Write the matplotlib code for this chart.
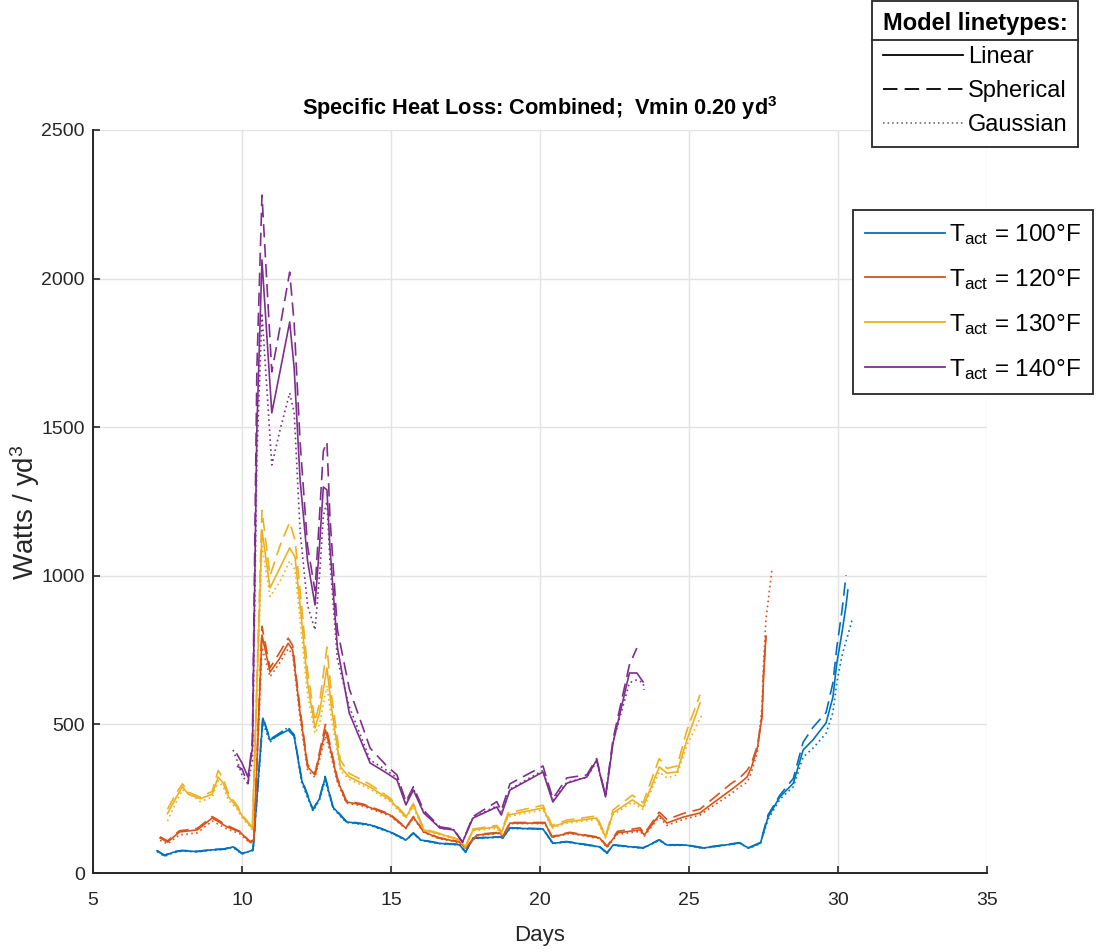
import numpy as np
import matplotlib
matplotlib.use("Agg")
import matplotlib.pyplot as plt
from matplotlib.lines import Line2D

nan = np.nan

# --- data ---
# T_act = 100 F
days_100 = [7.15, 7.4, 7.7, 8.0, 8.5, 9.0, 9.4, 9.7, 10.0, 10.37, 10.7, 10.94, 11.25,
            11.55, 11.75, 12.0, 12.38, 12.6, 12.79, 13.05, 13.5, 14.3, 14.97, 15.5,
            15.75, 16.0, 16.6, 17.3, 17.5, 17.75, 18.65, 18.75, 18.99, 20.1, 20.43,
            20.9, 22.0, 22.25, 22.45, 23.46, 24.0, 24.26, 24.9, 25.47, 26.7, 27.0,
            27.4, 27.65, 28.05, 28.5, 28.83, 29.16, 29.6, 29.83, 29.96, 30.13, 30.27,
            30.33, 30.47]
lin_100 = [75, 58, 70, 75, 72, 78, 80, 88, 65, 77, 521, 447, 465,
           481, 460, 313, 212, 250, 320, 222, 172, 162, 138, 111,
           134, 111, 100, 95, 70, 117, 121, 118, 151, 148, 100,
           105, 88, 67, 94, 84, 111, 94, 94, 84, 101, 84,
           101, 188, 256, 302, 414, 448, 505, 592, 706, 807, 900,
           952, nan]
sph_100 = [75, 60, 72, 76, 73, 79, 81, 90, 66, 78, 525, 450, 470,
           488, 465, 318, 214, 252, 325, 224, 174, 163, 139, 112,
           135, 112, 101, 96, 71, 118, 122, 119, 152, 149, 101,
           106, 89, 68, 95, 85, 112, 95, 95, 85, 102, 85,
           103, 195, 262, 318, 440, 490, 540, 640, 760, 880, 1002,
           nan, nan]
gau_100 = [72, 56, 68, 74, 71, 77, 79, 86, 64, 76, 505, 440, 470,
           490, 462, 305, 208, 245, 312, 218, 170, 160, 136, 110,
           132, 110, 99, 94, 69, 116, 120, 117, 150, 147, 99,
           104, 87, 66, 93, 83, 110, 93, 93, 83, 100, 83,
           99, 180, 248, 290, 390, 420, 470, 540, 640, 730, 780,
           800, 851]

# T_act = 120 F
days_120 = [7.25, 7.5, 7.9, 8.5, 9.0, 9.5, 9.93, 10.27, 10.4, 10.67, 10.94, 11.25,
            11.55, 11.7, 11.95, 12.2, 12.45, 12.8, 12.95, 13.2, 13.5, 14.06, 14.97,
            15.5, 15.75, 16.1, 16.6, 17.3, 17.5, 17.9, 18.65, 18.75, 18.99, 20.17,
            20.4, 21.0, 22.0, 22.25, 22.6, 23.36, 23.5, 24.0, 24.26, 24.8, 25.37,
            25.8, 26.4, 26.7, 26.95, 27.1, 27.3, 27.45, 27.5, 27.58, 27.78]
lin_120 = [118, 104, 138, 145, 185, 155, 138, 104, 110, 801, 676, 720,
           773, 750, 538, 357, 330, 481, 424, 313, 239, 229, 195,
           151, 188, 138, 118, 104, 84, 128, 135, 121, 168, 168,
           121, 135, 118, 88, 135, 145, 128, 195, 168, 188, 202,
           235, 279, 302, 323, 357, 424, 525, 659, 794, nan]
sph_120 = [122, 108, 142, 150, 190, 160, 140, 106, 112, 830, 690, 740,
           790, 765, 550, 365, 335, 500, 435, 320, 243, 232, 198,
           153, 190, 140, 119, 105, 85, 130, 137, 123, 170, 170,
           123, 137, 120, 90, 140, 152, 132, 205, 180, 200, 215,
           250, 300, 320, 345, 370, 430, 530, 665, 800, nan]
gau_120 = [110, 98, 128, 135, 175, 148, 132, 100, 108, 760, 660, 705,
           755, 735, 520, 345, 322, 460, 410, 305, 235, 225, 192,
           149, 185, 136, 116, 102, 82, 126, 133, 119, 166, 166,
           119, 133, 116, 86, 130, 140, 124, 188, 160, 180, 195,
           225, 265, 290, 305, 340, 410, 560, 700, 850, 1019]

# T_act = 130 F
days_130 = [7.5, 7.8, 8.0, 8.2, 8.6, 9.0, 9.2, 9.37, 9.55, 9.83, 10.03, 10.27,
            10.35, 10.67, 10.94, 11.27, 11.6, 11.78, 12.0, 12.2, 12.45, 12.6, 12.85,
            13.0, 13.3, 13.6, 14.3, 14.97, 15.5, 15.75, 16.1, 16.75, 17.3, 17.5,
            17.75, 18.55, 18.7, 18.93, 20.1, 20.4, 20.9, 21.9, 22.2, 22.45, 23.1,
            23.46, 24.0, 24.26, 24.6, 24.93, 25.37, 25.47]
lin_130 = [200, 256, 290, 265, 250, 265, 323, 302, 256, 222, 188, 160,
           150, 1154, 959, 1026, 1094, 1063, 851, 639, 488, 538, 690,
           558, 357, 323, 289, 246, 188, 229, 145, 128, 111, 88,
           145, 155, 135, 195, 219, 155, 172, 185, 121, 202, 246,
           222, 357, 336, 340, 448, 572, nan]
sph_130 = [215, 270, 300, 272, 255, 275, 345, 318, 265, 228, 192, 163,
           152, 1220, 1000, 1100, 1180, 1120, 900, 680, 510, 570, 760,
           600, 380, 335, 298, 252, 192, 234, 148, 130, 112, 89,
           148, 160, 140, 202, 228, 160, 178, 192, 124, 212, 262,
           236, 385, 352, 360, 480, 600, nan]
gau_130 = [175, 240, 280, 270, 240, 255, 310, 290, 245, 215, 182, 156,
           146, 1100, 930, 980, 1050, 1020, 800, 600, 470, 500, 630,
           520, 345, 315, 282, 240, 184, 224, 142, 125, 108, 86,
           142, 150, 132, 190, 212, 150, 168, 180, 118, 196, 238,
           214, 340, 320, 330, 430, 520, 538]

# T_act = 140 F
days_140 = [9.7, 9.83, 10.0, 10.2, 10.35, 10.5, 10.67, 11.0, 11.3, 11.6, 11.75, 11.95,
            12.2, 12.45, 12.6, 12.73, 12.85, 12.95, 13.2, 13.6, 14.3, 14.86, 15.2,
            15.5, 15.75, 16.1, 16.65, 17.1, 17.4, 17.75, 18.55, 18.7, 18.99, 20.1,
            20.43, 20.9, 21.57, 21.9, 22.2, 22.45, 23.0, 23.25, 23.46, 23.5]
lin_140 = [nan, 400, 370, 323, 420, 1500, 2063, 1548, 1700, 1854, 1700, 1322,
           1050, 902, 1100, 1299, 1289, 1097, 760, 538, 370, 336, 313,
           229, 279, 202, 151, 145, 104, 185, 222, 195, 279, 340,
           239, 302, 323, 380, 256, 437, 673, 673, 643, nan]
sph_140 = [nan, 360, 350, 300, 450, 1700, 2281, 1686, 1850, 2022, 1850, 1450,
           1100, 950, 1200, 1420, 1450, 1200, 820, 620, 420, 360, 330,
           240, 290, 210, 155, 148, 104, 190, 240, 210, 300, 360,
           250, 320, 330, 385, 260, 450, 700, 757, nan, nan]
gau_140 = [414, 380, 330, 300, 380, 1400, 1884, 1373, 1500, 1615, 1550, 1150,
           900, 818, 1000, 1200, 1250, 1050, 720, 560, 380, 345, 320,
           235, 285, 205, 150, 146, 104, 186, 226, 200, 282, 345,
           242, 305, 322, 375, 258, 440, 640, 650, 640, 616]

temps = [100, 120, 130, 140]
colors = ["#0072BD", "#D95319", "#EDB120", "#7E2F8E"]
series = [
    (days_100, lin_100, sph_100, gau_100),
    (days_120, lin_120, sph_120, gau_120),
    (days_130, lin_130, sph_130, gau_130),
    (days_140, lin_140, sph_140, gau_140),
]

# --- style ---
plt.rcParams["font.family"] = ["Liberation Sans", "DejaVu Sans"]
plt.rcParams["mathtext.default"] = "regular"
DARK = "#262626"
DASH = (0, (8, 4))
DOT = (0, (1, 2))

fig = plt.figure(figsize=(11.07, 9.52), dpi=100)
ax = fig.add_axes([93 / 1107, 79 / 952, 894 / 1107, 743 / 952])

for (d, lin, sph, gau), c in zip(series, colors):
    ax.plot(d, lin, color=c, lw=1.2, ls="-")
    ax.plot(d, sph, color=c, lw=1.2, ls=DASH)
    ax.plot(d, gau, color=c, lw=1.2, ls=DOT)

ax.set_xlim(5, 35)
ax.set_ylim(0, 2500)
ax.set_xticks(np.arange(5, 36, 5))
ax.set_yticks(np.arange(0, 2501, 500))
ax.grid(True, color="#e3e3e3", lw=1.0)
ax.set_axisbelow(True)
for s in ["top", "right"]:
    ax.spines[s].set_visible(False)
for s in ["left", "bottom"]:
    ax.spines[s].set_color(DARK)
    ax.spines[s].set_linewidth(1.4)
ax.tick_params(direction="in", length=5, width=1.2, colors=DARK, labelsize=14,
               labelcolor=DARK)
ax.tick_params(axis="x", pad=14)
ax.tick_params(axis="y", pad=6)

ax.set_xlabel("Days", fontsize=16, color=DARK, labelpad=11)
ax.set_ylabel("Watts / yd$^3$", fontsize=20, color=DARK)
ax.yaxis.set_label_coords(-0.057, 0.485)
ax.set_title("Specific Heat Loss: Combined;  Vmin 0.20 yd$^3$", fontsize=15.7,
             fontweight="bold", color="black", pad=11)

# legend for model line types
lt_handles = [Line2D([], [], color="black", lw=1.3, ls="-"),
              Line2D([], [], color="black", lw=1.3, ls=DASH),
              Line2D([], [], color="0.35", lw=1.1, ls=DOT)]
leg1 = fig.legend(lt_handles, ["Linear", "Spherical", "Gaussian"],
                  loc="upper left", bbox_to_anchor=(872 / 1107, 1 - 1 / 952),
                  borderaxespad=0, title="Model linetypes:",
                  title_fontproperties={"weight": "bold", "size": 17},
                  prop={"size": 17},
                  handlelength=3.4, handletextpad=0.2, labelspacing=0.5,
                  borderpad=0.45, fancybox=False, framealpha=1, edgecolor=DARK)
leg1.get_frame().set_linewidth(1.3)

# legend for activation temperatures
t_handles = [Line2D([], [], color=c, lw=1.3) for c in colors]
t_labels = ["T$_{act}$ = %d°F" % t for t in temps]
leg2 = fig.legend(t_handles, t_labels, loc="upper left",
                  bbox_to_anchor=(853 / 1107, 1 - 210 / 952), borderaxespad=0,
                  prop={"size": 17.5},
                  handlelength=3.3, handletextpad=0.15, labelspacing=0.82,
                  borderpad=0.5, fancybox=False, framealpha=1, edgecolor=DARK)
leg2.get_frame().set_linewidth(1.3)

# separator under the title of the first legend
fig.canvas.draw()
inv = fig.transFigure.inverted()
bb = leg1.get_frame().get_window_extent()
tb = leg1.get_title().get_window_extent()
y_sep = tb.y0 - 5
(x0, ys), (x1, _) = inv.transform([(bb.x0, y_sep), (bb.x1, y_sep)])
fig.add_artist(Line2D([x0, x1], [ys, ys], color=DARK, lw=1.3, zorder=10))

fig.savefig("out.png", dpi=100)
